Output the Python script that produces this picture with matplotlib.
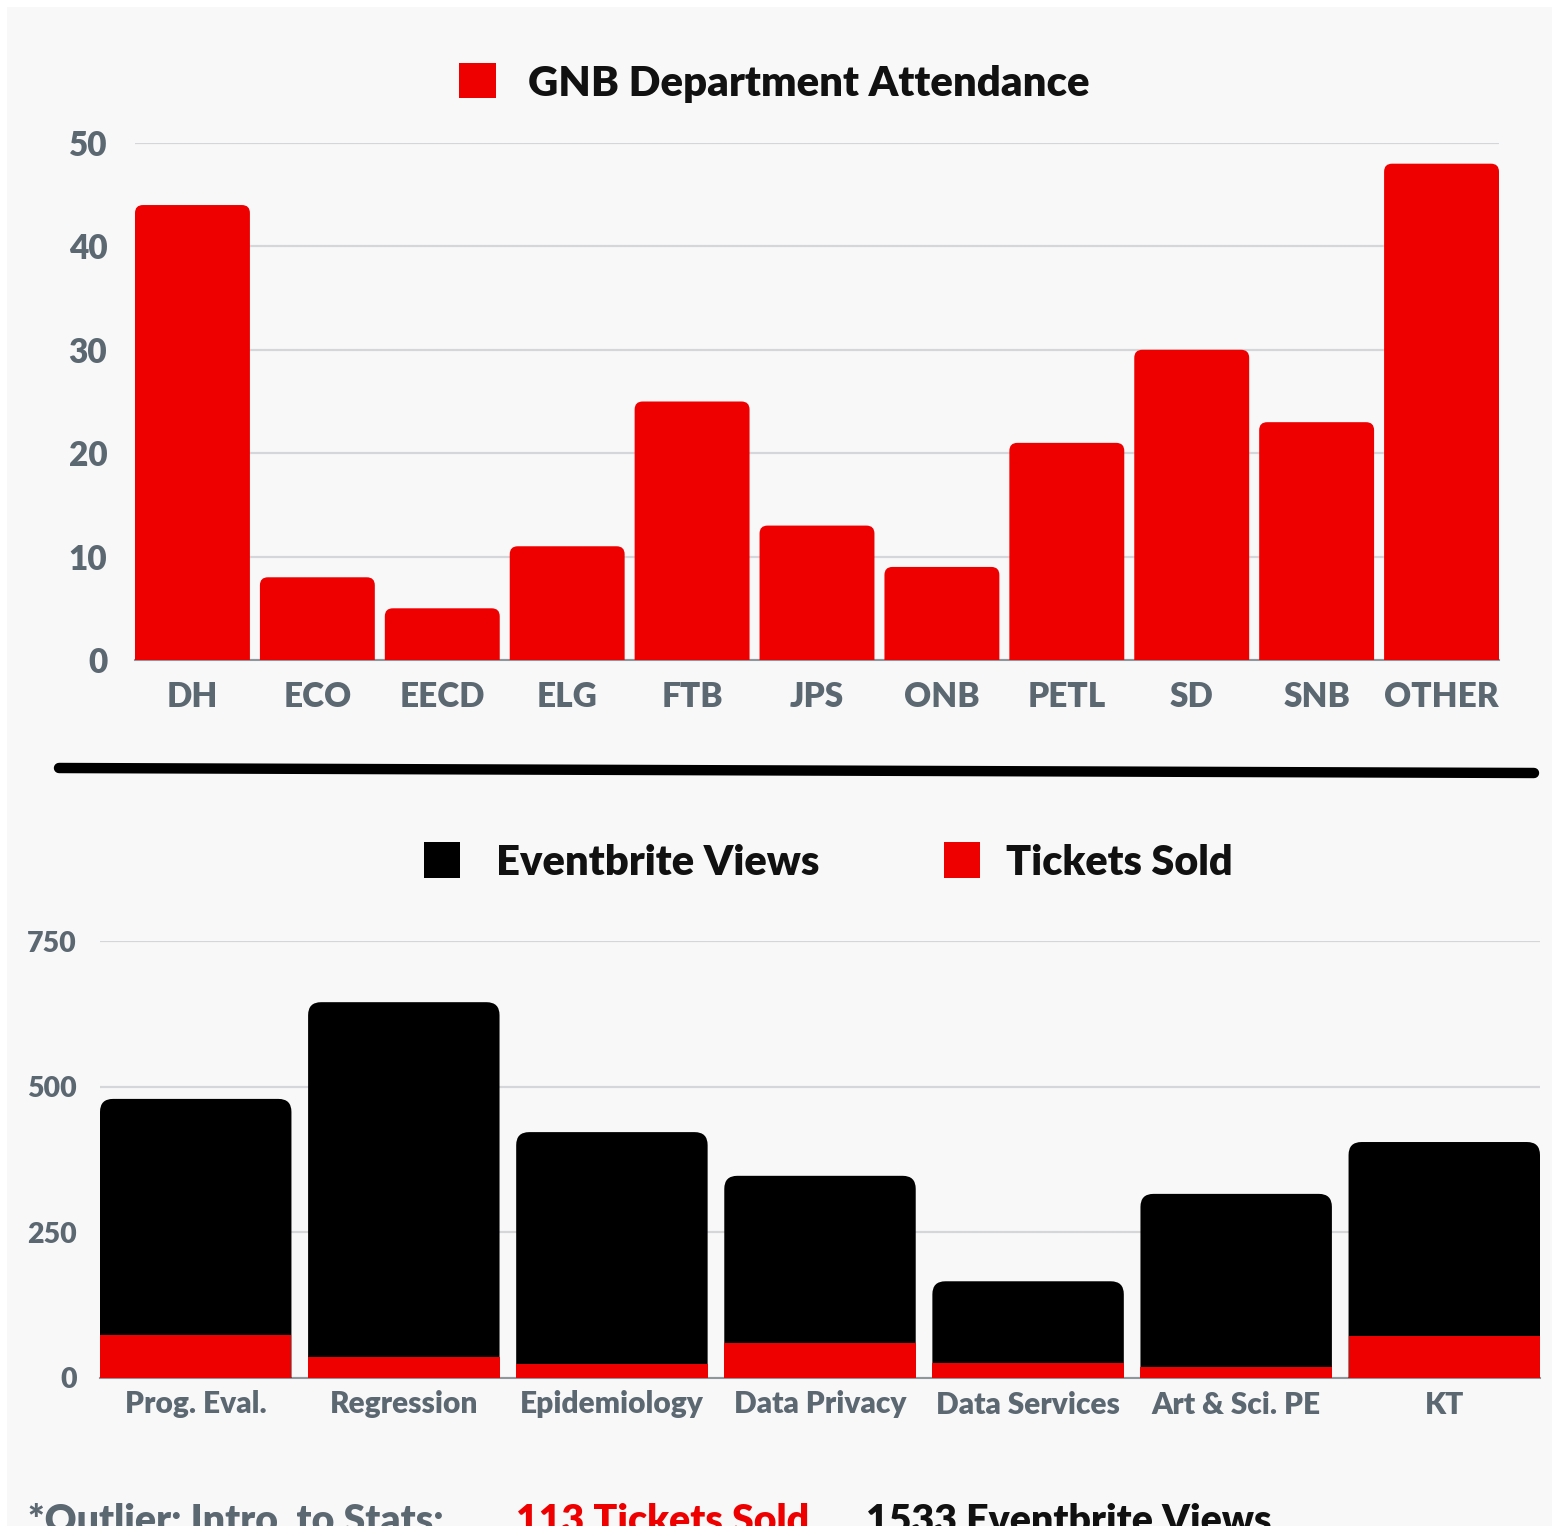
import matplotlib
matplotlib.use("Agg")
import matplotlib.pyplot as plt
from matplotlib.patches import FancyBboxPatch, Rectangle
from matplotlib.lines import Line2D

plt.rcParams['font.family'] = ['Lato', 'DejaVu Sans']

# ---------------- data ----------------
dept_labels = ["DH", "ECO", "EECD", "ELG", "FTB", "JPS", "ONB", "PETL", "SD", "SNB", "OTHER"]
dept_attendance = [44, 8, 5, 11, 25, 13, 9, 21, 30, 23, 48]
dept_series = "GNB Department Attendance"
dept_yticks = [0, 10, 20, 30, 40, 50]

course_labels = ["Prog. Eval.", "Regression", "Epidemiology", "Data Privacy",
                 "Data Services", "Art & Sci. PE", "KT"]
eventbrite_views = [479, 645, 422, 347, 166, 316, 405]
tickets_sold = [74, 36, 24, 60, 26, 19, 72]
views_series = "Eventbrite Views"
tickets_series = "Tickets Sold"
course_yticks = [0, 250, 500, 750]

note_prefix = "*Outlier: Intro. to Stats:"
note_tickets = "113 Tickets Sold"
note_views = "1533 Eventbrite Views"

RED = "#ee0000"
BLACK = "#000000"
GRAY = "#5b6771"
GRID = "#d4d6d9"
BASE = "#8f969c"
BG = "#f8f8f8"

W, H = 1554, 1526
fig = plt.figure(figsize=(W / 100, H / 100), dpi=100, facecolor="white")

def fx(px):
    return px / W

def fy(py):
    return (H - py) / H

# panel background
fig.patches.append(Rectangle((fx(7), 0), fx(1552) - fx(7), fy(7), transform=fig.transFigure,
                             facecolor=BG, edgecolor="none", zorder=-10))

def round_bars(ax, bars, r_px, color):
    bb = ax.get_window_extent()
    x0, x1 = ax.get_xlim()
    y0, y1 = ax.get_ylim()
    ppx = bb.width / (x1 - x0)
    ppy = bb.height / (y1 - y0)
    rx = r_px / ppx
    ry = r_px / ppy
    for b in bars:
        x, w, h = b.get_x(), b.get_width(), b.get_height()
        b.set_visible(False)
        p = FancyBboxPatch((x, -ry), w, h + ry,
                           boxstyle=f"round,pad=0,rounding_size={rx}",
                           mutation_aspect=ry / rx, facecolor=color,
                           edgecolor="none", zorder=2)
        ax.add_patch(p)

def style_axes(ax, ysize, xsize, ypad, xpad):
    for s in ["top", "right", "left"]:
        ax.spines[s].set_visible(False)
    ax.spines["bottom"].set_color(BASE)
    ax.spines["bottom"].set_linewidth(1.5)
    ax.spines["bottom"].set_zorder(1)
    ax.set_facecolor("none")
    ax.yaxis.grid(True, color=GRID, lw=1.6)
    ax.set_axisbelow(True)
    ax.tick_params(axis="both", length=0, labelcolor=GRAY)
    ax.tick_params(axis="y", labelsize=ysize, pad=ypad)
    ax.tick_params(axis="x", labelsize=xsize, pad=xpad)
    for lab in ax.get_xticklabels() + ax.get_yticklabels():
        lab.set_fontweight("heavy")

# ---------------- top chart ----------------
ax1 = fig.add_axes([fx(135), fy(660), fx(1499) - fx(135), fy(143) - fy(660)])
xs1 = list(range(len(dept_labels)))
bars1 = ax1.bar(xs1, dept_attendance, width=0.92, color=RED)
ax1.set_xlim(-0.46, len(dept_labels) - 1 + 0.46)
ax1.set_ylim(0, 50)
ax1.set_yticks(dept_yticks)
ax1.set_xticks(xs1)
ax1.set_xticklabels(dept_labels)
style_axes(ax1, 24, 24, 20, 15)
round_bars(ax1, bars1, 8, RED)

# legend top
fig.patches.append(Rectangle((fx(459), fy(98)), fx(496) - fx(459), fy(63) - fy(98),
                             transform=fig.transFigure, facecolor=RED, edgecolor="none"))
fig.text(fx(528), fy(84), dept_series, fontsize=30.2, fontweight="heavy",
         color="#111111", va="center", ha="left")

# divider
fig.lines.append(Line2D([fx(59), fx(1534)], [fy(768), fy(773)], transform=fig.transFigure,
                        color=BLACK, lw=7.5, solid_capstyle="round"))

# ---------------- bottom chart ----------------
ax2 = fig.add_axes([fx(100), fy(1378), fx(1540) - fx(100), fy(941) - fy(1378)])
xs2 = list(range(len(course_labels)))
bars_v = ax2.bar(xs2, eventbrite_views, width=0.92, color=BLACK)
ax2.set_xlim(-0.46, len(course_labels) - 1 + 0.46)
ax2.set_ylim(0, 750)
round_bars(ax2, bars_v, 13, BLACK)
bars_t = ax2.bar(xs2, tickets_sold, width=0.92, color=RED, zorder=3)
ax2.set_yticks(course_yticks)
ax2.set_xticks(xs2)
ax2.set_xticklabels(course_labels)
style_axes(ax2, 20.5, 21.5, 16.5, 9)

# legend bottom
fig.patches.append(Rectangle((fx(424), fy(878)), fx(460) - fx(424), fy(842) - fy(878),
                             transform=fig.transFigure, facecolor=BLACK, edgecolor="none"))
fig.text(fx(496), fy(863), views_series, fontsize=30.1, fontweight="heavy",
         color="#111111", va="center", ha="left")
fig.patches.append(Rectangle((fx(944), fy(878)), fx(980) - fx(944), fy(842) - fy(878),
                             transform=fig.transFigure, facecolor=RED, edgecolor="none"))
fig.text(fx(1006), fy(863), tickets_series, fontsize=29.8, fontweight="heavy",
         color="#111111", va="center", ha="left")

# note (cut off at the bottom like the reference)
fig.text(fx(28), fy(1503), note_prefix, fontsize=28.3, fontweight="heavy",
         color=GRAY, va="top", ha="left")
fig.text(fx(516), fy(1503), note_tickets, fontsize=28.3, fontweight="heavy",
         color=RED, va="top", ha="left")
fig.text(fx(866), fy(1503), note_views, fontsize=28.3, fontweight="heavy",
         color="#111111", va="top", ha="left")

fig.savefig("out.png", dpi=100, facecolor="white")
